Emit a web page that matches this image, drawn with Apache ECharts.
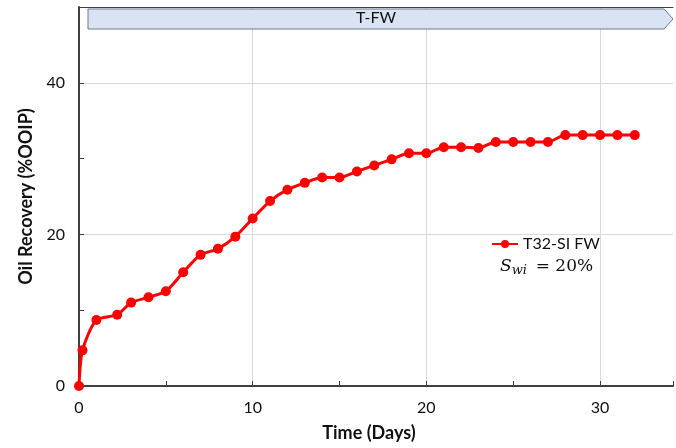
<!DOCTYPE html>
<html>
<head>
<meta charset="utf-8">
<script src="https://cdn.jsdelivr.net/npm/echarts@6/dist/echarts.min.js"></script>
<style>
  html, body { margin: 0; padding: 0; background: #fff; }
  #chart { width: 676px; height: 448px; }
</style>
</head>
<body>
<div id="chart"></div>
<script>
// 数据：时间（天）与采收率
const days = [0, 0.2, 1, 2.2, 3, 4, 5, 6, 7, 8, 9, 10, 11, 12, 13, 14, 15, 16, 17, 18, 19, 20, 21, 22, 23, 24, 25, 26, 27, 28, 29, 30, 31, 32];
const recovery = [0, 4.7, 8.7, 9.4, 11.0, 11.7, 12.5, 15.0, 17.3, 18.1, 19.7, 22.1, 24.4, 25.9, 26.8, 27.5, 27.5, 28.3, 29.1, 29.9, 30.7, 30.7, 31.5, 31.5, 31.4, 32.2, 32.2, 32.2, 32.2, 33.1, 33.1, 33.1, 33.1, 33.1];
const seriesName = 'T32-SI FW';
const xLabels = [0, 10, 20, 30];
const yLabels = [0, 20, 40];

const font = 'Lato, "Open Sans", sans-serif';

let chartConfig = {
  animation: false,
  grid: {
    left: 79,
    right: 0,
    top: 7,
    bottom: 62
  },
  legend: {
    data: [seriesName],
    left: 486,
    top: 231,
    itemWidth: 26,
    itemHeight: 10,
    itemGap: 2,
    textStyle: { fontFamily: font, fontSize: 16, color: '#111' }
  },
  xAxis: [{
    type: 'value',
    min: 0,
    max: 34.2,
    interval: 5,
    name: 'Time (Days)',
    nameLocation: 'middle',
    nameGap: 38,
    nameTextStyle: { fontFamily: font, fontSize: 18, fontWeight: 'bold', color: '#111', padding: [0, 14, 0, 0] },
    axisLine: { lineStyle: { color: '#404040', width: 2 } },
    axisTick: { inside: true, length: 5, lineStyle: { color: '#404040' } },
    axisLabel: {
      fontFamily: font, fontSize: 16, color: '#111', margin: 14,
      formatter: v => xLabels.includes(v) ? String(v) : ''
    },
    splitLine: { show: true, lineStyle: { color: ['#d9d9d9', 'rgba(0,0,0,0)'] } }
  }, {
    // 顶部边框
    type: 'value',
    position: 'top',
    min: 0,
    max: 34.2,
    axisLine: { show: true, lineStyle: { color: '#404040', width: 1 } },
    axisTick: { show: false },
    axisLabel: { show: false },
    splitLine: { show: false }
  }],
  yAxis: {
    type: 'value',
    min: 0,
    max: 50,
    interval: 10,
    name: 'Oil Recovery (%OOIP)',
    nameLocation: 'middle',
    nameGap: 44,
    nameTextStyle: { fontFamily: font, fontSize: 18, fontWeight: 'bold', color: '#111' },
    axisLine: { show: true, lineStyle: { color: '#404040', width: 2 } },
    axisTick: { show: true, inside: true, length: 5, lineStyle: { color: '#404040' } },
    axisLabel: {
      fontFamily: font, fontSize: 16, color: '#111', margin: 14,
      formatter: v => yLabels.includes(v) ? String(v) : ''
    },
    splitLine: { show: true, lineStyle: { color: ['#d9d9d9', 'rgba(0,0,0,0)'] } }
  },
  series: [{
    name: seriesName,
    type: 'line',
    xAxisIndex: 0,
    data: days.map((d, i) => [d, recovery[i]]),
    smooth: 0.25,
    symbol: 'circle',
    symbolSize: 10,
    itemStyle: { color: '#ff0000' },
    lineStyle: { color: '#ff0000', width: 3 }
  }],
  graphic: [
    {
      type: 'polygon',
      shape: { points: [[88, 9], [664, 9], [673, 19], [664, 29], [88, 29]] },
      style: { fill: '#dae3f3', stroke: '#6d7a8c', lineWidth: 1 },
      z: 10
    },
    {
      type: 'text',
      left: 356,
      top: 10,
      style: { text: 'T-FW', fontFamily: font, fontSize: 16, fill: '#111' },
      z: 11
    },
    {
      type: 'text',
      left: 500,
      top: 258,
      style: {
        text: '{s|S}{sub|wi} {eq| = 20%}',
        rich: {
          s: { fontFamily: '"DejaVu Serif", serif', fontStyle: 'italic', fontSize: 17, fill: '#111' },
          sub: { fontFamily: '"DejaVu Serif", serif', fontStyle: 'italic', fontSize: 13, fill: '#111', padding: [8, 0, 0, 0] },
          eq: { fontFamily: '"DejaVu Serif", serif', fontSize: 17, fill: '#111' }
        }
      },
      z: 11
    }
  ]
};

let chart = echarts.init(document.getElementById('chart'));
chart.setOption(chartConfig);
window.addEventListener('resize', function () {
  chart.resize();
});
</script>
</body>
</html>
